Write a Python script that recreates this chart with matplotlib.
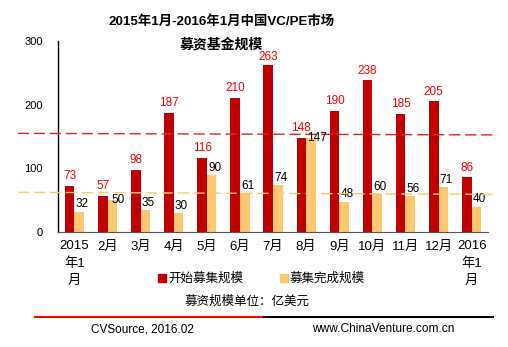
import matplotlib.pyplot as plt
import matplotlib.transforms as mtransforms
import numpy as np
from matplotlib.patches import Patch

plt.rcParams['font.family'] = ['Liberation Sans', 'Noto Sans CJK SC']

months = ['2015\n年1\n月', '2月', '3月', '4月', '5月', '6月', '7月', '8月',
          '9月', '10月', '11月', '12月', '2016\n年1\n月']
started = [73, 57, 98, 187, 116, 210, 263, 148, 190, 238, 185, 205, 86]
completed = [32, 50, 35, 30, 90, 61, 74, 147, 48, 60, 56, 71, 40]
# hand-placed reference lines (value at left end, value at right end)
started_ref = [155, 152.5]
completed_ref = [62.5, 59.3]

dark_red = '#C00000'
orange = '#FFC870'

fig = plt.figure(figsize=(5.08, 3.47), dpi=100)
ax = fig.add_axes([0.114, 0.331, 0.847, 0.551])

x = np.arange(len(months))
w = 0.29
ax.bar(x - w / 2, started, w, color=dark_red, zorder=2)
ax.bar(x + w / 2, completed, w, color=orange, zorder=2)

for xi, v in zip(x, started):
    off = 2 if v > 250 else 6
    ax.text(xi - w / 2, v + off, str(v), ha='center', va='bottom', color='#FF0000', fontsize=8.5)
for xi, v, r in zip(x, completed, started):
    if abs(v - r) < 10:
        # too close to the neighbouring label: set it beside the bar top
        ax.text(xi + w / 2 + 0.17, v, str(v), ha='center', va='center', color='black', fontsize=8.5, zorder=4)
    else:
        ax.text(xi + w / 2 + 0.09, v + 2, str(v), ha='center', va='bottom', color='black', fontsize=8.5)

# dashed guide lines, running past both ends of the plot area
trans = mtransforms.blended_transform_factory(ax.transAxes, ax.transData)
ax.plot([-0.093, 1.021], started_ref, transform=trans, clip_on=False,
        color='#E82020', lw=1, ls=(0, (8, 3.5)), zorder=3)
ax.plot([-0.093, 1.021], completed_ref, transform=trans, clip_on=False,
        color=orange, lw=1, ls=(0, (8, 3.5)), zorder=3)

ax.set_xlim(-0.5, len(months) - 0.5)
ax.set_ylim(0, 300)
ax.set_yticks([0, 100, 200, 300])
ax.tick_params(axis='y', length=0, pad=11, labelsize=8)
ax.set_xticks(x)
ax.set_xticklabels(months, fontsize=9.5, linespacing=1.5, va='top')
ax.tick_params(axis='x', length=0, pad=6)
for s in ['top', 'right']:
    ax.spines[s].set_visible(False)
ax.spines['left'].set_linewidth(1)
ax.spines['bottom'].set_linewidth(0.8)
ax.spines['bottom'].set_color('#555555')

fig.text(0.436, 0.937, '2015年1月-2016年1月中国VC/PE市场', ha='center', va='center',
         fontsize=9.6, fontweight='bold')
fig.text(0.436, 0.873, '募资基金规模', ha='center', va='center',
         fontsize=10, fontweight='bold')

handles = [Patch(color=dark_red, label='开始募集规模'),
           Patch(color=orange, label='募集完成规模')]
fig.legend(handles=handles, loc='center', bbox_to_anchor=(0.515, 0.196), ncol=2,
           frameon=False, fontsize=9, handlelength=0.6, handleheight=0.6,
           handletextpad=0.15, columnspacing=3.0)

fig.text(0.487, 0.132, '募资规模单位：亿美元', ha='center', va='center', fontsize=9)

fig.add_artist(plt.Line2D([35 / 508, 264 / 508], [1 - 316.5 / 347] * 2, color='#FF0000', lw=1.5))
fig.add_artist(plt.Line2D([264 / 508, 493 / 508], [1 - 316.5 / 347] * 2, color='black', lw=1.5))

fig.text(91 / 508, 1 - 329 / 347, 'CVSource, 2016.02', ha='left', va='center', fontsize=8.5)
fig.text(312 / 508, 1 - 329 / 347, 'www.ChinaVenture.com.cn', ha='left', va='center', fontsize=8.6)

fig.savefig('out.png', dpi=100)
